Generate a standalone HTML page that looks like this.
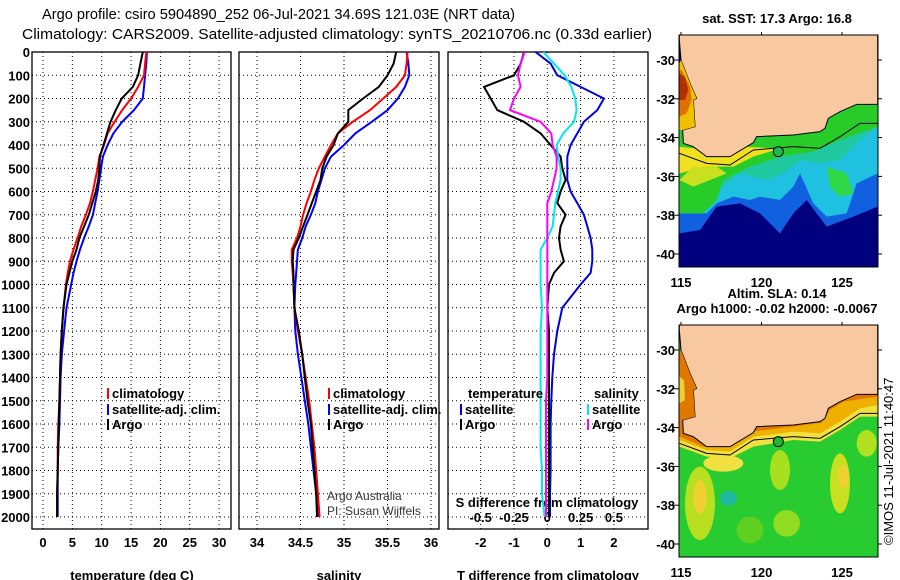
<!DOCTYPE html>
<html><head><meta charset="utf-8">
<style>
html,body{margin:0;padding:0;background:#fff;}
svg{display:block;font-family:"Liberation Sans",Arial,sans-serif;}
.b{font-weight:bold;font-size:13px;}
</style></head>
<body>
<svg id="fig" width="900" height="580" viewBox="0 0 900 580" xmlns="http://www.w3.org/2000/svg">
<text x="42" y="19" font-size="15" textLength="473" lengthAdjust="spacingAndGlyphs">Argo profile: csiro 5904890_252 06-Jul-2021 34.69S 121.03E (NRT data)</text>
<text x="22" y="39" font-size="15" textLength="630" lengthAdjust="spacingAndGlyphs">Climatology: CARS2009. Satellite-adjusted climatology: synTS_20210706.nc (0.33d earlier)</text>
<g id="plots"></g>

<!-- Map 1 : SST -->
<text x="777" y="23" class="b" text-anchor="middle">sat. SST: 17.3 Argo: 16.8</text>
<svg x="640" y="0" width="260" height="300" viewBox="0 0 780 900">
 <defs><clipPath id="c1"><rect x="118" y="105" width="595" height="695"/></clipPath></defs>
 <g clip-path="url(#c1)">
  <rect x="118" y="105" width="595" height="695" fill="#00007f"/>
  <polygon fill="#1060e0" points="118,700 180,690 230,620 300,610 360,640 420,700 460,640 500,600 560,680 640,650 713,620 713,500 118,500"/>
  <polygon fill="#20c0e0" points="118,640 200,640 230,610 280,590 330,600 360,590 420,600 460,560 480,520 520,610 560,650 620,640 650,550 713,520 713,313 118,313"/>
  <polygon fill="#20c8a0" points="118,560 250,560 300,520 380,540 430,520 480,480 540,490 600,480 660,420 713,380 713,313 118,313"/>
  <polygon fill="#28cc28" points="118,640 190,640 230,600 250,540 330,500 420,470 520,455 600,420 713,380 713,313 118,313"/>
  <polygon fill="#30d848" points="560,500 620,520 640,580 600,590 570,560"/>
  <polygon fill="#f0e020" points="118,520 200,500 280,500 340,470 420,445 300,440 200,450 118,440"/>
  <polygon fill="#c8e020" points="118,540 160,560 210,540 260,520 230,500 160,500"/>
  <polygon fill="#f8c8a0" stroke="#000" stroke-width="3" points="118,105 713,105 713,313 650,313 600,335 565,355 555,385 540,395 460,405 350,410 340,428 270,470 200,470 160,440 130,430 128,390 165,380 160,300 170,295 150,250 123,180 118,120"/>
  <polygon fill="#f0c000" points="118,190 123,180 150,250 170,295 160,300 165,380 128,390 118,390"/>
  <polygon fill="#e07000" points="118,210 125,210 150,260 155,300 140,340 118,350"/>
  <polygon fill="#b03000" points="118,220 135,230 145,270 135,300 118,300"/>
  <polyline fill="none" stroke="#000" stroke-width="3" points="118,460 200,490 270,495 340,450 460,440 540,445 600,410 660,370 713,370"/>
  <circle cx="415" cy="455" r="15" fill="#20b850" stroke="#000" stroke-width="3"/>
 </g>
 <rect x="118" y="105" width="595" height="695" fill="none" stroke="#000" stroke-width="0"/>
</svg>
<g id="m1ax"></g>
<text x="777" y="298" class="b" text-anchor="middle">Altim. SLA: 0.14</text>
<text x="777" y="313" class="b" text-anchor="middle">Argo h1000: -0.02 h2000: -0.0067</text>

<!-- Map 2 : SLA -->
<svg x="640" y="290" width="260" height="290" viewBox="0 0 780 870">
 <defs><clipPath id="c2"><rect x="118" y="105" width="595" height="695"/></clipPath></defs>
 <g clip-path="url(#c2)">
  <rect x="118" y="105" width="595" height="695" fill="#28cc30"/>
  <ellipse cx="180" cy="640" rx="45" ry="110" fill="#b8e020"/>
  <ellipse cx="180" cy="620" rx="20" ry="50" fill="#f0d030"/>
  <ellipse cx="265" cy="625" rx="25" ry="22" fill="#20b8a0"/>
  <ellipse cx="420" cy="540" rx="30" ry="60" fill="#a8e020"/>
  <ellipse cx="440" cy="700" rx="40" ry="40" fill="#90dc20"/>
  <ellipse cx="600" cy="580" rx="30" ry="90" fill="#c8e020"/>
  <ellipse cx="610" cy="560" rx="15" ry="35" fill="#f0d030"/>
  <ellipse cx="680" cy="460" rx="30" ry="40" fill="#b0e020"/>
  <ellipse cx="330" cy="720" rx="40" ry="40" fill="#60d020"/>
  <ellipse cx="250" cy="520" rx="60" ry="25" fill="#f0e040"/>
  <polygon fill="#f0e040" points="118,470 200,500 270,505 340,470 460,450 540,455 600,420 660,380 713,380 713,313 118,313"/>
  <polygon fill="#f0b000" points="118,450 200,480 270,485 340,440 460,425 540,430 600,395 660,355 713,345 713,313 118,313"/>
  <polygon fill="#e07800" points="118,440 190,470 260,472 335,425 460,410 545,398 570,360 610,335 713,320 713,313 118,313"/>
  <polygon fill="#f8c8a0" stroke="#000" stroke-width="3" points="118,105 713,105 713,313 650,313 600,335 565,355 555,385 540,395 460,405 350,410 340,428 270,470 200,470 160,440 130,430 128,390 165,380 160,300 170,295 150,250 123,180 118,120"/>
  <polygon fill="#e07800" points="118,195 123,180 150,250 170,295 160,300 165,380 128,390 118,390"/>
  <polygon fill="#f0d030" points="118,260 132,270 135,330 118,340"/>
  <polyline fill="none" stroke="#000" stroke-width="3" points="118,460 200,490 270,495 340,450 460,440 540,445 600,410 660,370 713,370"/>
  <circle cx="415" cy="455" r="15" fill="#20b830" stroke="#000" stroke-width="3"/>
 </g>
</svg>
<g id="m2ax"></g>
<text transform="translate(893,545) rotate(-90)" font-size="13">©IMOS 11-Jul-2021 11:40:47</text>
</svg>

<script>
// ---------- data ----------
const depths = [0,50,100,150,200,250,300,350,400,450,500,550,600,650,700,750,800,850,900,950,1000,1100,1200,1300,1400,1500,1600,1700,1800,1900,2000];
const tempArgo = [17.0,16.6,16.2,15.3,13.4,12.4,11.5,10.9,10.3,9.7,9.6,9.4,9.0,8.4,7.8,7.0,6.2,5.7,5.0,4.5,4.0,3.5,3.2,3.0,2.9,2.8,2.7,2.6,2.5,2.4,2.4];
const tempClim = [17.6,17.4,17.2,16.2,15.0,13.5,12.2,11.0,10.4,9.6,9.3,8.9,8.5,8.0,7.3,6.5,5.9,5.2,4.6,4.2,3.9,3.5,3.2,3.0,2.9,2.8,2.6,2.5,2.5,2.4,2.4];
const tempSat = [17.7,17.6,17.4,17.2,17.0,15.5,13.5,12.0,11.0,10.2,9.9,9.6,9.3,8.9,8.5,7.8,7.0,6.3,5.7,5.2,4.8,4.0,3.6,3.2,3.0,2.9,2.8,2.6,2.5,2.5,2.5];
const salArgo = [35.6,35.57,35.5,35.4,35.22,35.05,35.05,34.93,34.88,34.8,34.75,34.73,34.68,34.63,34.58,34.53,34.48,34.42,34.41,34.42,34.42,34.43,34.48,34.52,34.55,34.58,34.62,34.64,34.66,34.68,34.69];
const salClim = [35.73,35.72,35.7,35.6,35.45,35.3,35.1,34.93,34.85,34.78,34.71,34.66,34.62,34.57,34.53,34.5,34.46,34.4,34.4,34.41,34.42,34.43,34.47,34.52,34.56,34.6,34.63,34.66,34.68,34.7,34.72];
const salSat = [35.72,35.74,35.75,35.7,35.62,35.5,35.32,35.13,35.0,34.85,34.78,34.74,34.7,34.67,34.62,34.56,34.52,34.47,34.46,34.45,34.44,34.43,34.44,34.47,34.51,34.55,34.59,34.62,34.65,34.68,34.7];
const dTsat = [-0.35,0.1,0.3,1.0,1.7,1.5,1.1,0.9,0.7,0.6,0.6,0.6,0.7,0.9,1.1,1.2,1.3,1.35,1.35,1.3,1.0,0.45,0.3,0.2,0.15,0.12,0.1,0.1,0.1,0.08,0.08];
const dTargo = [-0.7,-0.8,-1.0,-1.9,-1.7,-1.5,-0.7,-0.2,0.1,0.4,0.45,0.55,0.4,0.3,0.55,0.4,0.35,0.4,0.5,0.2,0.05,0.0,0.05,0.05,0.05,0.05,0.05,0.05,0.05,0.05,0.05];
const dSsat = [-0.03,0.05,0.13,0.18,0.21,0.22,0.2,0.12,0.07,0.08,0.1,0.1,0.08,0.06,0.05,0.04,0.0,-0.05,-0.05,-0.05,-0.05,-0.04,-0.05,-0.05,-0.05,-0.05,-0.05,-0.05,-0.04,-0.04,-0.02];
const dSargo = [-0.17,-0.2,-0.22,-0.2,-0.25,-0.28,-0.05,0.03,0.04,0.07,0.07,0.05,0.03,0.0,0.0,0.0,0.0,0.0,0.0,0.0,0.0,0.0,0.0,0.0,0.0,-0.01,-0.01,-0.01,-0.01,-0.01,-0.01];
const depthTicks = [0,100,200,300,400,500,600,700,800,900,1000,1100,1200,1300,1400,1500,1600,1700,1800,1900,2000];
const tempTicks = [0,5,10,15,20,25,30];
const salTicks = [34,34.5,35,35.5,36];
const dTTicks = [-2,-1,0,1,2];
const dSTicks = [-0.5,-0.25,0,0.25,0.5];
const latTicks = [-30,-32,-34,-36,-38,-40];
const lonTicks = [115,120,125];

// ---------- axes ----------
const NS = 'http://www.w3.org/2000/svg';
const top0 = 52, bot0 = 529;
const yD = d => 52 + d * 0.2325;
const xT = t => 43 + t * 5.87;
const xS = s => 257 + (s - 34) * 87;
const xDT = t => 547.3 + t * 33.3;
const xDS = s => 547.3 + s * 133.3;
const panels = [{x0:32,x1:231},{x0:239,x1:439},{x0:448,x1:648}];

const root = document.getElementById('plots');
function el(tag, attrs, parent){ const e=document.createElementNS(NS,tag); for(const k in attrs) e.setAttribute(k,attrs[k]); (parent||root).appendChild(e); return e; }
function txt(x,y,s,attrs,parent){ const e=el('text',Object.assign({x:x,y:y},attrs||{}),parent); e.textContent=s; return e; }

panels.forEach((p,i)=>{
  const g = el('g',{});
  
  
  depthTicks.forEach(d=>{ el('line',{x1:p.x0,x2:p.x1,y1:yD(d),y2:yD(d),stroke:'#000','stroke-width':1,'stroke-dasharray':'1,3'},g); });
  const vt = i===0? tempTicks.map(xT) : i===1 ? salTicks.map(xS) : dTTicks.map(xDT);
  vt.forEach(x=>{ el('line',{x1:x,x2:x,y1:top0,y2:bot0,stroke:'#000','stroke-width':1,'stroke-dasharray':'1,3'},g); });
  el('rect',{x:p.x0,y:top0,width:p.x1-p.x0,height:bot0-top0,fill:'none',stroke:'#000','stroke-width':1.3},g);
  const cp = el('clipPath',{id:'pc'+i},g); el('rect',{x:p.x0,y:top0,width:p.x1-p.x0,height:bot0-top0},cp);
});

depthTicks.forEach(d=>{
  const t = txt(30,yD(d)+5,String(d),{'text-anchor':'end',class:'b'});
  
  
});
tempTicks.forEach(v=>{ const t=txt(xT(v),547,String(v),{'text-anchor':'middle',class:'b'});   });
salTicks.forEach(v=>{ const t=txt(xS(v),547,String(v),{'text-anchor':'middle',class:'b'});   });
dTTicks.forEach(v=>{ const t=txt(xDT(v),547,String(v),{'text-anchor':'middle',class:'b'});   });
dSTicks.forEach(v=>{ const t=txt(xDS(v),522,String(v),{'text-anchor':'middle',class:'b'});   });
[['temperature (deg C)',132,'temp-axis-title'],['salinity',339,'salinity-axis-title'],['T difference from climatology',548,'tdiff-axis-title']].forEach(a=>{
  const t=txt(a[1],580,a[0],{'text-anchor':'middle',class:'b'});   });
{ const t=txt(547,507,'S difference from climatology',{'text-anchor':'middle',class:'b'});   }

function line(vals, fx, color, clip, name){
  let d=''; vals.forEach((v,k)=>{ d += (k?'L':'M') + fx(v).toFixed(1) + ',' + yD(depths[k]).toFixed(1); });
  const p = el('path',{d:d,fill:'none',stroke:color,'stroke-width':2,'clip-path':'url(#pc'+clip+')'});
  
  
}
line(tempSat,xT,'#0000ff',0,'temp-satellite-line');
line(tempClim,xT,'#ff0000',0,'temp-climatology-line');
line(tempArgo,xT,'#000000',0,'temp-argo-line');
line(salSat,xS,'#0000ff',1,'salinity-satellite-line');
line(salClim,xS,'#ff0000',1,'salinity-climatology-line');
line(salArgo,xS,'#000000',1,'salinity-argo-line');
line(dTsat,xDT,'#0000e0',2,'tdiff-satellite-line');
line(dTargo,xDT,'#000000',2,'tdiff-argo-line');
line(dSsat,xDS,'#00e8e8',2,'sdiff-satellite-line');
line(dSargo,xDS,'#ff00ff',2,'sdiff-argo-line');

function legendItem(x,y,color,label,name){
  el('rect',{x:x,y:y-10,width:2,height:11,fill:color});
  const t=txt(x+5,y,label,{class:'b'});
  
  
}
legendItem(107,398,'#ff0000','climatology','legend-temp-climatology');
legendItem(107,414,'#0000ff','satellite-adj. clim.','legend-temp-satellite');
legendItem(107,429,'#000000','Argo','legend-temp-argo');
legendItem(328,398,'#ff0000','climatology','legend-sal-climatology');
legendItem(328,414,'#0000ff','satellite-adj. clim.','legend-sal-satellite');
legendItem(328,429,'#000000','Argo','legend-sal-argo');
{ const t=txt(468,398,'temperature',{class:'b'});   }
{ const t=txt(594,398,'salinity',{class:'b'});   }
legendItem(460,414,'#0000e0','satellite','legend-tdiff-satellite');
legendItem(460,429,'#000000','Argo','legend-tdiff-argo');
legendItem(587,414,'#00e8e8','satellite','legend-sdiff-satellite');
legendItem(587,429,'#ff00ff','Argo','legend-sdiff-argo');
{ const t=txt(327,500,'Argo Australia',{'font-size':12,fill:'#333'});   }
{ const t=txt(327,515,'PI: Susan Wijffels',{'font-size':12,fill:'#333'});   }

// map axes
function mapAxes(gid, top, bottom, latY0){
  const g = document.getElementById(gid);
  const yLat = la => latY0 + (-30 - la) * 19.4;
  const xLon = lo => 681 + (lo - 115) * 16.1;
  el('rect',{x:679,y:top,width:199,height:bottom-top,fill:'none',stroke:'#000','stroke-width':1},g);
  latTicks.forEach(la=>{
    el('line',{x1:673,x2:679,y1:yLat(la),y2:yLat(la),stroke:'#000'},g);
    el('line',{x1:878,x2:882,y1:yLat(la),y2:yLat(la),stroke:'#000'},g);
    const t=txt(675,yLat(la)+5,String(la),{'text-anchor':'end',class:'b'},g);
     
  });
  lonTicks.forEach(lo=>{
    el('line',{x1:xLon(lo),x2:xLon(lo),y1:top-3,y2:top,stroke:'#000'},g);
    const t=txt(xLon(lo),bottom+20,String(lo),{'text-anchor':'middle',class:'b'},g);
     
  });
}
mapAxes('m1ax',35,267,60);
mapAxes('m2ax',325,557,350);
</script>
</body></html>
